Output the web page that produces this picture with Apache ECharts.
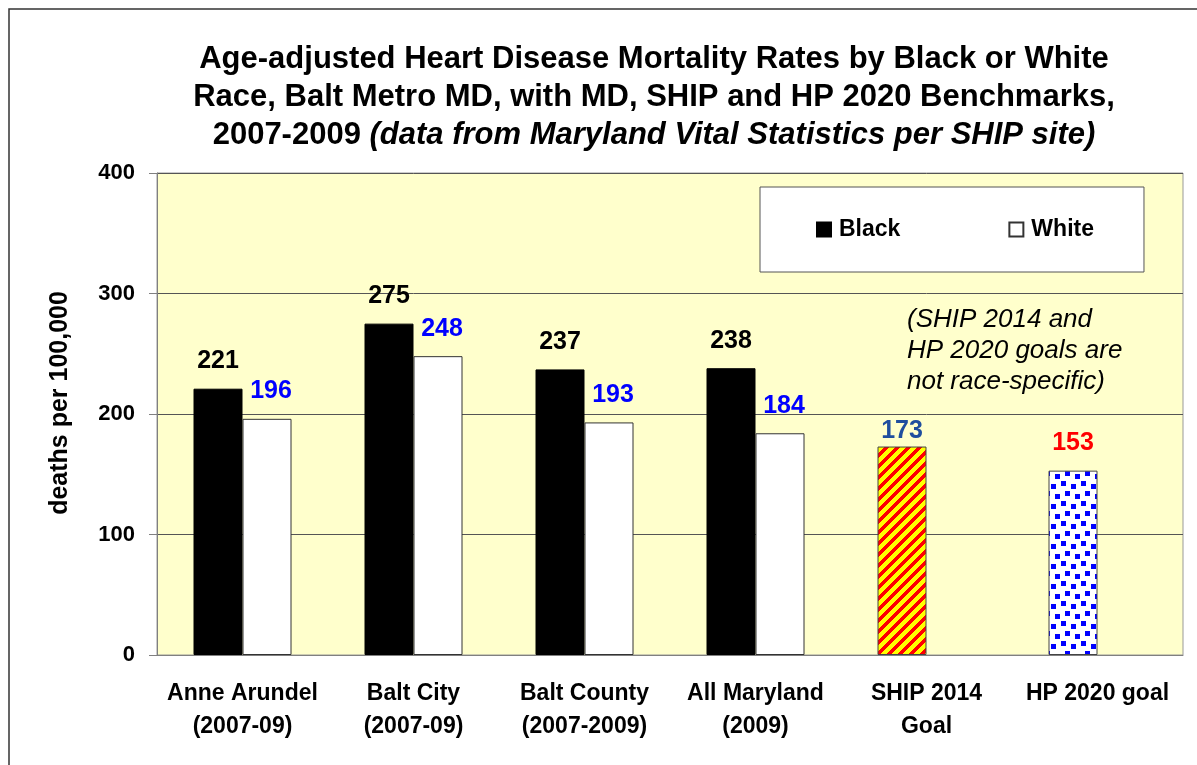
<!DOCTYPE html>
<html>
<head>
<meta charset="utf-8">
<script src="https://cdn.jsdelivr.net/npm/echarts@6/dist/echarts.min.js"></script>
<style>
  html, body { margin: 0; padding: 0; background: #fff; }
  #container { width: 1197px; height: 765px; }
</style>
</head>
<body>
<div id="container"></div>
<script>
// data
var categories = ['Anne Arundel\n(2007-09)', 'Balt City\n(2007-09)', 'Balt County\n(2007-2009)',
                  'All Maryland\n(2009)', 'SHIP 2014\nGoal', 'HP 2020 goal'];
var blackRates = [221, 275, 237, 238];
var whiteRates = [196, 248, 193, 184];
var goalRates = [173, 153];   // SHIP 2014, HP 2020 (not race-specific)
var yTicks = [0, 100, 200, 300, 400];

var FONT = '"Liberation Sans", Arial, sans-serif';

// yellow with red diagonal stripes
function stripePattern() {
  var c = document.createElement('canvas');
  var p = 11;
  c.width = p; c.height = p;
  var ctx = c.getContext('2d');
  ctx.fillStyle = '#FFFF00';
  ctx.fillRect(0, 0, p, p);
  ctx.fillStyle = '#FF0000';
  for (var x = 0; x < p; x++) {
    for (var y = 0; y < p; y++) {
      if ((x + y) % p < 5) ctx.fillRect(x, y, 1, 1);
    }
  }
  return c;
}
// white with blue confetti squares
function confettiPattern() {
  var c = document.createElement('canvas');
  c.width = 20; c.height = 20;
  var ctx = c.getContext('2d');
  ctx.fillStyle = '#FFFFFF';
  ctx.fillRect(0, 0, 20, 20);
  ctx.fillStyle = '#0000FF';
  var sq = [[1, 1], [11, 4], [5, 11], [15, 14]];
  sq.forEach(function (s) { ctx.fillRect(s[0], s[1], 5, 5); });
  return c;
}

var blackData = blackRates.slice();
blackData.push({
  value: goalRates[0],
  itemStyle: { color: { image: stripePattern(), repeat: 'repeat' }, borderColor: '#444', borderWidth: 1 },
  label: { color: '#1F4E9E', distance: 3 }
});
blackData.push({
  value: goalRates[1],
  itemStyle: { color: { image: confettiPattern(), repeat: 'repeat' }, borderColor: '#444', borderWidth: 1 },
  label: { color: '#FF0000' }
});
var whiteData = whiteRates.concat([null, null]);

var dom = document.getElementById('container');
var myChart = echarts.init(dom);

var option = {
  backgroundColor: '#fff',
  animation: false,
  textStyle: { fontFamily: FONT },
  title: {
    text: 'Age-adjusted Heart Disease Mortality Rates by Black or White\n' +
          'Race, Balt Metro MD, with MD, SHIP and HP 2020 Benchmarks,\n' +
          '2007-2009 {i|(data from Maryland Vital Statistics per SHIP site)}',
    left: 649,
    top: 35,
    textAlign: 'center',
    textStyle: {
      fontFamily: FONT, fontSize: 31, fontWeight: 'bold', color: '#000', lineHeight: 38,
      rich: {
        i: { fontFamily: FONT, fontSize: 31, fontWeight: 'bold', fontStyle: 'italic', color: '#000', lineHeight: 38 }
      }
    }
  },
  legend: {
    data: ['Black', 'White'],
    left: 760,
    top: 187,
    padding: [31, 50, 31, 56],
    itemGap: 108,
    itemWidth: 14,
    itemHeight: 14,
    icon: 'rect',
    backgroundColor: '#fff',
    borderColor: '#555',
    borderWidth: 1,
    textStyle: { fontFamily: FONT, fontSize: 23, fontWeight: 'bold', color: '#000', padding: [0, 0, 0, 3] }
  },
  grid: {
    left: 157, top: 173, right: 14, bottom: 110,
    show: true, backgroundColor: '#FFFFCC', borderColor: '#999', borderWidth: 1
  },
  xAxis: {
    type: 'category',
    data: categories,
    axisLine: { lineStyle: { color: '#808080' } },
    axisTick: { length: 8, lineStyle: { color: '#808080' } },
    axisLabel: {
      interval: 0, margin: 22, fontFamily: FONT, fontSize: 23, fontWeight: 'bold',
      color: '#000', lineHeight: 33
    }
  },
  yAxis: {
    type: 'value',
    min: yTicks[0],
    max: yTicks[yTicks.length - 1],
    interval: 100,
    name: 'deaths per 100,000',
    nameLocation: 'middle',
    nameGap: 84,
    nameTextStyle: {
      fontFamily: FONT, fontSize: 25, fontWeight: 'bold', color: '#000',
      padding: [0, 0, 0, 22]
    },
    axisLine: { show: true, lineStyle: { color: '#808080' } },
    axisTick: { show: true, length: 8, lineStyle: { color: '#808080' } },
    axisLabel: { margin: 22, fontFamily: FONT, fontSize: 22, fontWeight: 'bold', color: '#000' },
    splitLine: { lineStyle: { color: '#555', width: 1 } }
  },
  series: [{
    name: 'Black',
    type: 'bar',
    barWidth: 49,
    barGap: '0%',
    itemStyle: { color: '#000', borderColor: '#000', borderWidth: 1 },
    label: {
      show: true, position: 'top', distance: 15,
      fontFamily: FONT, fontSize: 25, fontWeight: 'bold', color: '#000'
    },
    data: blackData
  }, {
    name: 'White',
    type: 'bar',
    barWidth: 49,
    barGap: '0%',
    itemStyle: { color: '#fff', borderColor: '#333', borderWidth: 1 },
    label: {
      show: true, position: 'top', distance: 15, offset: [4, 0],
      fontFamily: FONT, fontSize: 25, fontWeight: 'bold', color: '#0000FF'
    },
    data: whiteData
  }],
  graphic: [{
    type: 'rect',
    shape: { x: 9, y: 9, width: 1300, height: 900 },
    style: { fill: null, stroke: '#333', lineWidth: 1.5 },
    silent: true
  }, {
    type: 'text',
    left: 907,
    top: 304,
    style: {
      text: '(SHIP 2014 and\nHP 2020 goals are\nnot race-specific)',
      font: 'italic 26px ' + FONT,
      lineHeight: 31,
      fill: '#000'
    }
  }]
};

if (option && typeof option === 'object') {
  myChart.setOption(option, true);
}
</script>
</body>
</html>
